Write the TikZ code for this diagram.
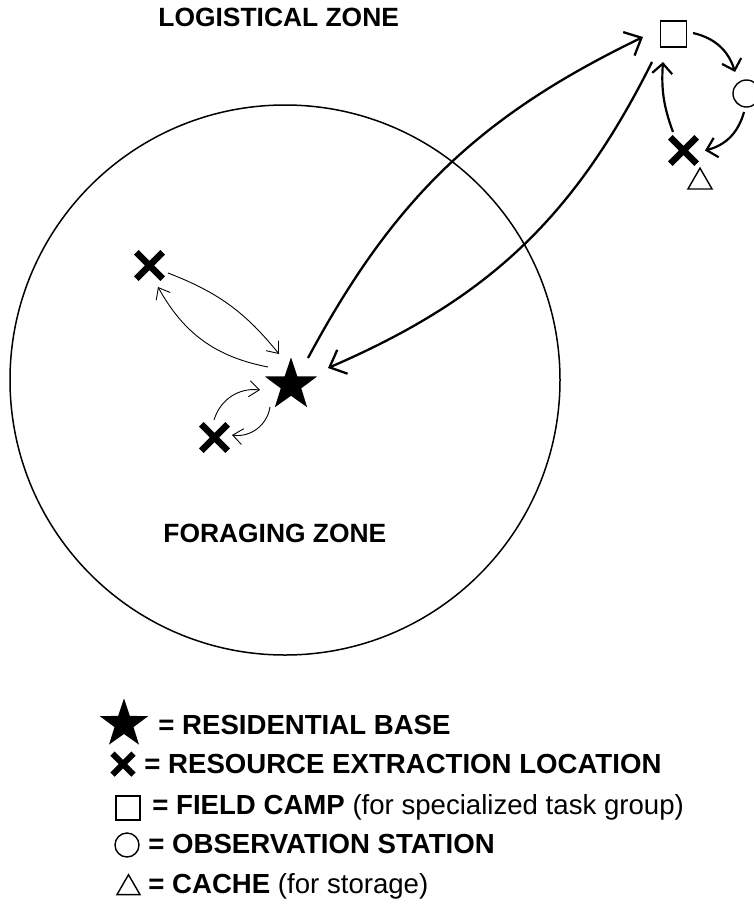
\documentclass[tikz,border=0pt]{standalone}
\usepackage{fontspec}
\setmainfont{Liberation Sans}
\usetikzlibrary{arrows.meta,shapes.geometric,shapes.misc}
\tikzset{
  basemark/.style={star,star points=5,star point ratio=2.55,fill=black,
                   inner sep=0pt,minimum size=#1},
  xmark/.style={cross out,draw=black,line width=3.2pt,inner sep=0pt,
                minimum size=#1},
  campmark/.style={rectangle,draw=black,line width=0.7pt,inner sep=0pt,
                   minimum size=#1},
  obsmark/.style={circle,draw=black,line width=0.7pt,inner sep=0pt,
                  minimum size=#1},
  cachemark/.style={regular polygon,regular polygon sides=3,draw=black,
                    line width=0.7pt,inner sep=0pt,minimum size=#1},
  zone/.style={font=\fontsize{13.2}{16}\selectfont\bfseries,inner sep=0pt,
               anchor=base west},
  legtext/.style={font=\fontsize{13.8}{16}\selectfont,inner sep=0pt,
                  anchor=base west},
  larr/.style={-{Straight Barb[length=7pt,width=13pt]},line width=1.15pt},
  carr/.style={-{Straight Barb[length=5pt,width=10pt]},line width=1.1pt},
  farr/.style={-{Straight Barb[length=5pt,width=8pt]},line width=0.45pt},
}

\begin{document}
\begin{tikzpicture}[x=0.5pt,y=-0.5pt]
  \useasboundingbox (0,0) rectangle (754,905);
  \clip (0,0) rectangle (754,905);

  % zones
  \node[circle,draw=black,line width=0.75pt,minimum size=275pt,inner sep=0pt]
    (FZ) at (285,380) {};
  \node[zone] (LZT) at (158,26) {LOGISTICAL ZONE};
  \node[zone] (FZT) at (163,542) {FORAGING ZONE};

  % sites
  \node[basemark=27.5pt] (BASE) at (291,385) {};
  \node[xmark=10pt] (X1) at (149.5,265.5) {};
  \node[xmark=10pt] (X2) at (214.5,437.5) {};
  \node[xmark=10pt] (X3) at (683.5,150.5) {};
  \node[campmark=13pt] (CAMP) at (673.5,34) {};
  \node[obsmark=13.5pt] (OBS) at (746.5,93.5) {};
  \node[cachemark=13.9pt] (CACHE) at (700,182) {};

  % logistical moves
  \draw[larr] ([shift={(17,-27)}]BASE.center) to[bend left=18]
    ([shift={(-30.5,3)}]CAMP.center);
  \draw[larr] ([shift={(-21.5,28)}]CAMP.center) to[bend left=20]
    ([shift={(37,-17)}]BASE.center);
  \draw[carr] ([shift={(19.5,-1)}]CAMP.center) to[bend left=30]
    ([shift={(-11.5,-21.5)}]OBS.center);
  \draw[carr] ([shift={(-2.5,18.5)}]OBS.center) to[bend left=30]
    ([shift={(21.5,0)}]X3.center);
  \draw[carr] ([shift={(-10.5,-18.5)}]X3.center) to[bend left=12]
    ([shift={(-10.5,28)}]CAMP.center);

  % foraging moves
  \draw[farr] ([shift={(18.5,7.5)}]X1.center) to[bend left=15]
    ([shift={(-12,-31)}]BASE.center);
  \draw[farr] ([shift={(-23,-18)}]BASE.center) to[bend left=25]
    ([shift={(8.5,21.5)}]X1.center);
  \draw[farr] ([shift={(-0.5,-17.5)}]X2.center) to[bend left=40]
    ([shift={(-31,5)}]BASE.center);
  \draw[farr] ([shift={(-21,22)}]BASE.center) to[bend left=45]
    ([shift={(17.5,-2.5)}]X2.center);

  % legend
  \node[basemark=25.5pt] (LBASE) at (124,724) {};
  \node[xmark=7.5pt,line width=3pt] (LX) at (123,764) {};
  \node[campmark=12pt] (LCAMP) at (128,808) {};
  \node[obsmark=12pt] (LOBS) at (127,845) {};
  \node[cachemark=13.3pt] (LCACHE) at (128.5,888) {};

  \node[legtext] (T1) at (158,734) {\textbf{= RESIDENTIAL BASE}};
  \node[legtext] (T2) at (144,773) {\textbf{= RESOURCE EXTRACTION LOCATION}};
  \node[legtext] (T3) at (152,814) {\textbf{= FIELD CAMP} (for specialized task group)};
  \node[legtext] (T4) at (148,853) {\textbf{= OBSERVATION STATION}};
  \node[legtext] (T5) at (148,893) {\textbf{= CACHE} (for storage)};

\end{tikzpicture}
\end{document}
